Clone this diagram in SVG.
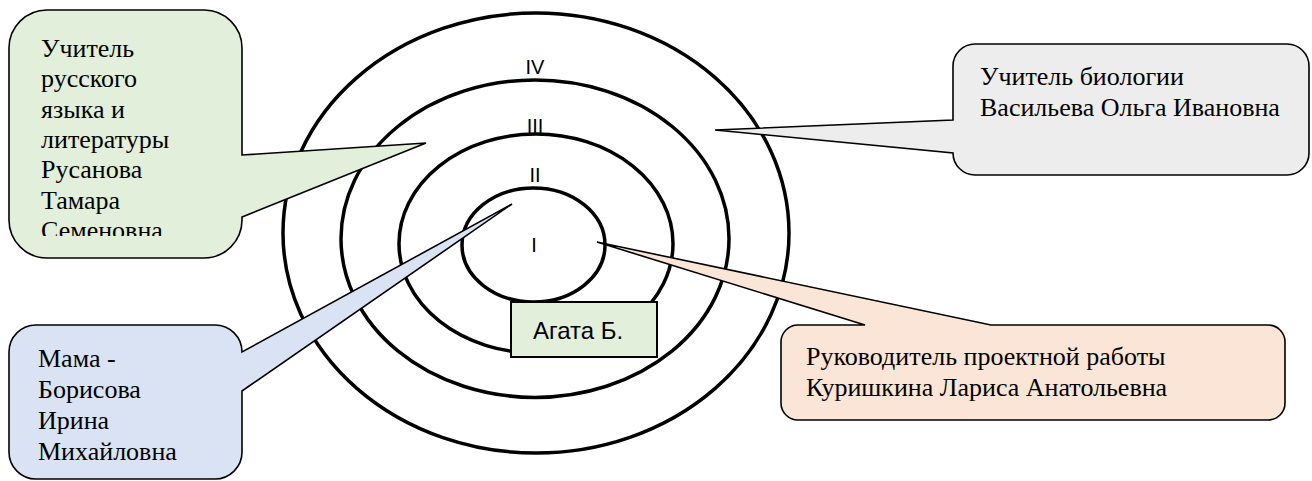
<svg xmlns="http://www.w3.org/2000/svg" width="1312" height="481" viewBox="0 0 1312 481">
<style>
.ring{fill:none;stroke:#000;stroke-width:3.5}
.num{font-family:"Liberation Sans",Arial,sans-serif;font-size:20px;fill:#000;text-anchor:middle}
.call{stroke:#000;stroke-width:1.6;stroke-linejoin:miter}
.t{font-family:"Liberation Serif","Times New Roman",serif;font-size:26px;fill:#000}
</style>
<defs>
<clipPath id="gclip"><rect x="9" y="10" width="233" height="226"/></clipPath>
</defs>
<rect width="1312" height="481" fill="#fff"/>
<g id="rings">
<ellipse class="ring" cx="536" cy="233" rx="253" ry="220"/>
<ellipse class="ring" cx="535" cy="238.7" rx="194" ry="158.7"/>
<ellipse class="ring" cx="536" cy="243.5" rx="137" ry="109.5"/>
<ellipse class="ring" cx="533.5" cy="245" rx="71.5" ry="57"/>
<text class="num" x="535" y="74">IV</text>
<text class="num" x="535" y="133">III</text>
<text class="num" x="535" y="182">II</text>
<text class="num" x="534" y="252">I</text>
</g>
<g id="agata">
<rect x="511" y="302" width="146" height="55" fill="#E2EFDA" stroke="#000" stroke-width="2"/>
<text x="533" y="339" font-family="'Liberation Sans',Arial,sans-serif" font-size="24" fill="#000">Агата Б.</text>
</g>
<g id="connectors"></g>
<g id="callout-russian">
<path class="call" fill="#E2EFDA" d="M47,10 H204 A38,38 0 0 1 242,48 V155 L426,143 L242,217 V220 A38,38 0 0 1 204,258 H47 A38,38 0 0 1 9,220 V48 A38,38 0 0 1 47,10 Z"/>
<g clip-path="url(#gclip)">
<text class="t" x="41" y="57">Учитель</text>
<text class="t" x="41" y="87.3">русского</text>
<text class="t" x="41" y="117.6">языка и</text>
<text class="t" x="41" y="147.9">литературы</text>
<text class="t" x="41" y="178.2">Русанова</text>
<text class="t" x="41" y="208.5">Тамара</text>
<text class="t" x="41" y="238.8">Семеновна</text>
</g>
</g>
<g id="callout-mama">
<path class="call" fill="#DAE3F3" d="M36,325 H215 A27,27 0 0 1 242,352 L512,204 L242,391 V452 A27,27 0 0 1 215,479 H36 A27,27 0 0 1 9,452 V352 A27,27 0 0 1 36,325 Z"/>
<text class="t" x="38" y="367">Мама -</text>
<text class="t" x="38" y="398">Борисова</text>
<text class="t" x="38" y="429">Ирина</text>
<text class="t" x="38" y="460">Михайловна</text>
</g>
<g id="callout-biology">
<path class="call" fill="#EDEDED" d="M975,44 H1287 A22,22 0 0 1 1309,66 V153 A22,22 0 0 1 1287,175 H975 A22,22 0 0 1 953,153 L715,130 L953,120 V66 A22,22 0 0 1 975,44 Z"/>
<text class="t" x="980" y="85">Учитель биологии</text>
<text class="t" x="980" y="116">Васильева Ольга Ивановна</text>
</g>
<g id="callout-project">
<path class="call" fill="#FBE5D6" d="M798,325 H865 L597,242 L991,325 H1268 A17,17 0 0 1 1285,342 V403 A17,17 0 0 1 1268,420 H798 A17,17 0 0 1 781,403 V342 A17,17 0 0 1 798,325 Z"/>
<text class="t" x="806" y="365">Руководитель проектной работы</text>
<text class="t" x="806" y="396">Куришкина Лариса Анатольевна</text>
</g>
</svg>
